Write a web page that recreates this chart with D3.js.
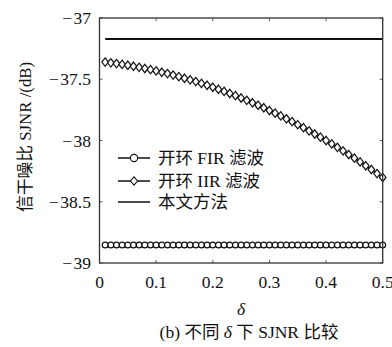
<!DOCTYPE html>
<html>
<head>
<meta charset="utf-8">
<script src="https://cdn.jsdelivr.net/npm/d3@7"></script>
<style>
  body { margin: 0; background: #fff; }
  svg { display: block; }
  text { font-family: "Liberation Serif", "DejaVu Serif", "Noto Sans CJK SC", serif; fill: #111; }
</style>
</head>
<body>
<svg id="chart" width="392" height="347"></svg>
<script>
// delta values (x)
var delta = [0.01, 0.02, 0.03, 0.04, 0.05, 0.06, 0.07, 0.08, 0.09, 0.10,
             0.11, 0.12, 0.13, 0.14, 0.15, 0.16, 0.17, 0.18, 0.19, 0.20,
             0.21, 0.22, 0.23, 0.24, 0.25, 0.26, 0.27, 0.28, 0.29, 0.30,
             0.31, 0.32, 0.33, 0.34, 0.35, 0.36, 0.37, 0.38, 0.39, 0.40,
             0.41, 0.42, 0.43, 0.44, 0.45, 0.46, 0.47, 0.48, 0.49, 0.50];

// open-loop FIR filter
var firVals = [-38.853, -38.853, -38.853, -38.853, -38.853, -38.853, -38.853, -38.853, -38.853, -38.853,
               -38.853, -38.853, -38.853, -38.853, -38.853, -38.853, -38.853, -38.853, -38.853, -38.853,
               -38.853, -38.853, -38.853, -38.853, -38.853, -38.853, -38.853, -38.853, -38.853, -38.853,
               -38.853, -38.853, -38.853, -38.853, -38.853, -38.853, -38.853, -38.853, -38.853, -38.853,
               -38.853, -38.853, -38.853, -38.853, -38.853, -38.853, -38.853, -38.853, -38.853, -38.853];

// open-loop IIR filter
var iirVals = [-37.360, -37.366, -37.372, -37.379, -37.386, -37.394, -37.403, -37.412, -37.422, -37.432,
               -37.443, -37.454, -37.466, -37.479, -37.492, -37.505, -37.519, -37.534, -37.549, -37.565,
               -37.582, -37.599, -37.616, -37.634, -37.653, -37.672, -37.692, -37.712, -37.733, -37.755,
               -37.777, -37.799, -37.823, -37.846, -37.871, -37.895, -37.921, -37.947, -37.973, -38.000,
               -38.028, -38.056, -38.085, -38.114, -38.144, -38.175, -38.206, -38.237, -38.270, -38.302];

// proposed method
var oursVals = [-37.171, -37.171, -37.171, -37.171, -37.171, -37.171, -37.171, -37.171, -37.171, -37.171,
                -37.171, -37.171, -37.171, -37.171, -37.171, -37.171, -37.171, -37.171, -37.171, -37.171,
                -37.171, -37.171, -37.171, -37.171, -37.171, -37.171, -37.171, -37.171, -37.171, -37.171,
                -37.171, -37.171, -37.171, -37.171, -37.171, -37.171, -37.171, -37.171, -37.171, -37.171,
                -37.171, -37.171, -37.171, -37.171, -37.171, -37.171, -37.171, -37.171, -37.171, -37.171];

var xTicks = [0, 0.1, 0.2, 0.3, 0.4, 0.5];
var yTicks = [-37, -37.5, -38, -38.5, -39];
var legendNames = ["开环 FIR 滤波", "开环 IIR 滤波", "本文方法"];

var svg = d3.select("#chart");
var padL = 99.5, padR = 382.7, padT = 18, padB = 263;

var x = d3.scaleLinear().domain([0, 0.5]).range([padL, padR]);
var y = d3.scaleLinear().domain([-39, -37]).range([padB, padT]);

// wide minus like the TeX one
var fmt = function(d) { return String(d).replace("-", "\u2212\u200A"); };

// ticks (inward on all four sides)
var tickLen = 3;
var g = svg.append("g").attr("stroke", "#333").attr("stroke-width", 0.8);
xTicks.forEach(function(t) {
    g.append("line").attr("x1", x(t)).attr("x2", x(t)).attr("y1", padB).attr("y2", padB - tickLen);
    g.append("line").attr("x1", x(t)).attr("x2", x(t)).attr("y1", padT).attr("y2", padT + tickLen);
});
yTicks.forEach(function(t) {
    g.append("line").attr("x1", padL).attr("x2", padL + tickLen).attr("y1", y(t)).attr("y2", y(t));
    g.append("line").attr("x1", padR).attr("x2", padR - tickLen).attr("y1", y(t)).attr("y2", y(t));
});

// tick labels
svg.selectAll(".xl").data(xTicks).enter().append("text")
    .attr("x", function(d) { return x(d); })
    .attr("y", 288)
    .attr("text-anchor", "middle")
    .attr("font-size", 17.5)
    .text(function(d) { return d; });

svg.selectAll(".yl").data(yTicks).enter().append("text")
    .attr("x", 91)
    .attr("y", function(d) { return y(d) + 6; })
    .attr("text-anchor", "end")
    .attr("font-size", 17.5)
    .text(fmt);

// axis titles
svg.append("text").attr("x", 241).attr("y", 315)
    .attr("text-anchor", "middle").attr("font-size", 17.5).attr("font-style", "italic")
    .text("δ");

svg.append("text")
    .attr("transform", "translate(31,137) rotate(-90)")
    .attr("text-anchor", "middle").attr("font-size", 16.8)
    .text("信干噪比 SJNR /(dB)");

var cap = svg.append("text").attr("x", 249).attr("y", 338)
    .attr("text-anchor", "middle").attr("font-size", 17.5);
cap.append("tspan").text("(b) 不同 ");
cap.append("tspan").attr("font-style", "italic").text("δ");
cap.append("tspan").text(" 下 SJNR 比较");

// series
var line = d3.line().x(function(d) { return x(d[0]); }).y(function(d) { return y(d[1]); });
var firData = d3.zip(delta, firVals);
var iirData = d3.zip(delta, iirVals);
var oursData = d3.zip(delta, oursVals);

svg.append("path").datum(oursData).attr("d", line)
    .attr("fill", "none").attr("stroke", "#111").attr("stroke-width", 1.9);

svg.append("path").datum(firData).attr("d", line)
    .attr("fill", "none").attr("stroke", "#111").attr("stroke-width", 1.5);
svg.selectAll(".fir").data(firData).enter().append("circle")
    .attr("cx", function(d) { return x(d[0]); })
    .attr("cy", function(d) { return y(d[1]); })
    .attr("r", 2.9)
    .attr("fill", "#fff").attr("stroke", "#111").attr("stroke-width", 1.2);

function diamond(cx, cy, w, h) {
    return "M" + cx + "," + (cy - h) + "L" + (cx + w) + "," + cy + "L" + cx + "," + (cy + h) + "L" + (cx - w) + "," + cy + "Z";
}

svg.append("path").datum(iirData).attr("d", line)
    .attr("fill", "none").attr("stroke", "#111").attr("stroke-width", 1.5);
svg.selectAll(".iir").data(iirData).enter().append("path")
    .attr("d", function(d) { return diamond(x(d[0]), y(d[1]), 3.3, 4.2); })
    .attr("fill", "#fff").attr("stroke", "#111").attr("stroke-width", 1.2);

// frame
svg.append("rect").attr("x", padL).attr("y", padT)
    .attr("width", padR - padL).attr("height", padB - padT)
    .attr("fill", "none").attr("stroke", "#333").attr("stroke-width", 1.3);

// legend
var legY = [158, 181, 202];
var lx0 = 118, lx1 = 150, lxm = 134;
legendNames.forEach(function(name, i) {
    svg.append("line").attr("x1", lx0).attr("x2", lx1).attr("y1", legY[i]).attr("y2", legY[i])
        .attr("stroke", "#111").attr("stroke-width", 1.5);
    if (i === 0) {
        svg.append("circle").attr("cx", lxm).attr("cy", legY[i]).attr("r", 3.6)
            .attr("fill", "#fff").attr("stroke", "#111").attr("stroke-width", 1.1);
    } else if (i === 1) {
        svg.append("path").attr("d", diamond(lxm, legY[i], 3.6, 4.2))
            .attr("fill", "#fff").attr("stroke", "#111").attr("stroke-width", 1.1);
    }
    svg.append("text").attr("x", 158).attr("y", legY[i] + 6)
        .attr("font-size", 17.5).text(name);
});
</script>
</body>
</html>
